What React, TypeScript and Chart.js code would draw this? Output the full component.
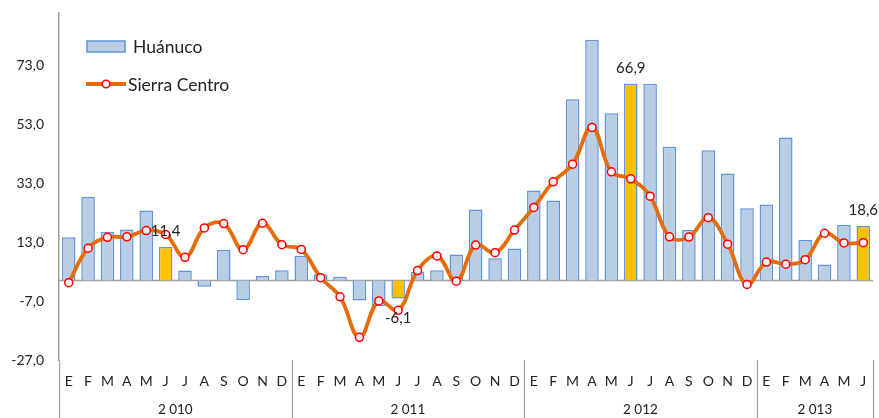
import React, { useEffect, useRef } from 'react';
import { Chart, registerables } from 'chart.js';
Chart.register(...registerables);

const monthLetters = ['E', 'F', 'M', 'A', 'M', 'J', 'J', 'A', 'S', 'O', 'N', 'D'];
const years = ['2 010', '2 011', '2 012', '2 013'];
const monthsPerYear = [12, 12, 12, 6];

const huanuco = [
  14.7, 28.4, 16.6, 17.4, 23.8, 11.4, 3.4, -2.1, 10.4, -6.6, 1.6, 3.5,
  8.4, 2.2, 1.3, -6.8, -8.6, -6.1, 3.0, 3.5, 8.9, 24.2, 7.6, 10.9,
  30.6, 27.2, 61.7, 81.9, 56.9, 66.9, 66.9, 45.5, 17.2, 44.3, 36.4, 24.6,
  25.9, 48.7, 13.8, 5.5, 18.9, 18.6,
];

const sierraCentro = [
  -0.7, 11.0, 14.7, 14.9, 17.0, 15.7, 7.9, 17.9, 19.4, 10.5, 19.5, 12.2,
  10.6, 1.0, -5.5, -19.3, -6.9, -10.1, 3.4, 8.4, -0.2, 12.1, 9.5, 17.2,
  24.9, 33.6, 39.6, 52.1, 37.0, 34.6, 28.7, 14.9, 14.8, 21.4, 12.4, -1.3,
  6.3, 5.6, 7.1, 16.1, 12.8, 12.9,
];

const highlighted = [5, 17, 29, 41];
const yTicks = [-27, -7, 13, 33, 53, 73];
const yMin = -27;
const yMax = 91;

const seriesNames = ['Huánuco', 'Sierra Centro'];

const labels: string[] = [];
monthsPerYear.forEach((n) => {
  for (let i = 0; i < n; i++) labels.push(monthLetters[i]);
});

const FONT = 'Lato, "Noto Sans", sans-serif';
const BAR_FILL = '#B9CDE5';
const BAR_BORDER = '#5F94D9';
const HIGHLIGHT_FILL = '#FFC000';
const LINE_COLOR = '#E46C0A';
const POINT_FILL = '#FFF2F2';
const POINT_BORDER = '#FF0000';
const AXIS_COLOR = '#A0A0A0';
const TEXT_COLOR = '#222222';

const fmt = (v: number) => v.toFixed(1).replace('.', ',');

const overlay = {
  id: 'overlay',
  beforeDatasetsDraw(chart: any) {
    const { ctx, chartArea, scales } = chart;
    const y0 = scales.y.getPixelForValue(0);
    ctx.save();
    ctx.strokeStyle = AXIS_COLOR;
    ctx.lineWidth = 1.5;
    ctx.beginPath();
    ctx.moveTo(chartArea.left, y0);
    ctx.lineTo(chartArea.right, y0);
    ctx.stroke();
    ctx.restore();
  },
  afterDraw(chart: any) {
    const { ctx, chartArea, scales } = chart;
    const xs = scales.x;
    const H = chart.height;
    const step = xs.getPixelForValue(1) - xs.getPixelForValue(0);
    ctx.save();
    // category axis separators
    ctx.strokeStyle = AXIS_COLOR;
    ctx.lineWidth = 1.2;
    let start = 0;
    const bounds: number[] = [chartArea.left];
    monthsPerYear.forEach((n) => {
      const end = start + n - 1;
      bounds.push(xs.getPixelForValue(end) + step / 2);
      start += n;
    });
    bounds.forEach((bx) => {
      ctx.beginPath();
      ctx.moveTo(Math.round(bx) + 0.5, chartArea.bottom);
      ctx.lineTo(Math.round(bx) + 0.5, H);
      ctx.stroke();
    });
    // year labels
    ctx.fillStyle = TEXT_COLOR;
    ctx.font = `13.5px ${FONT}`;
    ctx.textAlign = 'center';
    ctx.textBaseline = 'middle';
    years.forEach((yl, i) => {
      ctx.fillText(yl, (bounds[i] + bounds[i + 1]) / 2, 410);
    });
    // value labels on highlighted bars
    const meta = chart.getDatasetMeta(0);
    ctx.font = `15px ${FONT}`;
    highlighted.forEach((i) => {
      const el = meta.data[i];
      const v = huanuco[i];
      const ty = v >= 0 ? el.y - 16 : el.y + 20;
      ctx.fillText(fmt(v), el.x, ty);
    });
    // legend
    ctx.font = `17.5px ${FONT}`;
    ctx.textAlign = 'left';
    ctx.fillStyle = BAR_FILL;
    ctx.fillRect(87, 41, 38, 11);
    ctx.strokeStyle = BAR_BORDER;
    ctx.lineWidth = 1.5;
    ctx.strokeRect(87, 41, 38, 11);
    ctx.fillStyle = TEXT_COLOR;
    ctx.fillText(seriesNames[0], 133, 47);
    ctx.strokeStyle = LINE_COLOR;
    ctx.lineWidth = 3.8;
    ctx.beginPath();
    ctx.moveTo(86, 84);
    ctx.lineTo(126, 84);
    ctx.stroke();
    ctx.beginPath();
    ctx.arc(106, 84, 3.8, 0, Math.PI * 2);
    ctx.fillStyle = POINT_FILL;
    ctx.fill();
    ctx.strokeStyle = POINT_BORDER;
    ctx.lineWidth = 1.5;
    ctx.stroke();
    ctx.fillStyle = TEXT_COLOR;
    ctx.fillText(seriesNames[1], 128, 85);
    ctx.restore();
  },
};

export default function App() {
  const ref = useRef<HTMLCanvasElement>(null);
  useEffect(() => {
    const chart = new Chart(ref.current as HTMLCanvasElement, {
      type: 'bar',
      data: {
        labels,
        datasets: [
          {
            type: 'bar',
            label: seriesNames[0],
            data: huanuco,
            backgroundColor: huanuco.map((_, i) => (highlighted.includes(i) ? HIGHLIGHT_FILL : BAR_FILL)),
            borderColor: BAR_BORDER,
            borderWidth: 1.5,
            barPercentage: 0.7,
            categoryPercentage: 1,
            order: 2,
          } as any,
          {
            type: 'line',
            label: seriesNames[1],
            data: sierraCentro,
            borderColor: LINE_COLOR,
            borderWidth: 3.8,
            tension: 0.4,
            pointRadius: 4,
            pointBackgroundColor: POINT_FILL,
            pointBorderColor: POINT_BORDER,
            pointBorderWidth: 1.5,
            order: 1,
          } as any,
        ],
      },
      options: {
        responsive: false,
        animation: false,
        layout: { padding: { top: 13, right: 6, left: 0, bottom: 0 } },
        plugins: {
          legend: { display: false },
          tooltip: { enabled: false },
          title: { display: false },
        },
        scales: {
          x: {
            grid: { display: false, drawTicks: false },
            border: { display: false },
            ticks: {
              autoSkip: false,
              maxRotation: 0,
              minRotation: 0,
              padding: 13,
              color: TEXT_COLOR,
              font: { family: FONT, size: 14 },
            },
            afterFit: (s: any) => {
              s.height = 58;
              s.paddingLeft = 0;
              s.paddingRight = 0;
            },
          },
          y: {
            min: yMin,
            max: yMax,
            grid: { display: false, drawTicks: false },
            border: { display: true, color: AXIS_COLOR, width: 1.5 },
            afterBuildTicks: (s: any) => {
              s.ticks = yTicks.map((v) => ({ value: v }));
            },
            ticks: {
              padding: 15,
              color: TEXT_COLOR,
              font: { family: FONT, size: 14 },
              callback: (v: any) => fmt(Number(v)),
            },
            afterFit: (s: any) => {
              s.width = 59;
              s.paddingTop = 0;
              s.paddingBottom = 0;
            },
          },
        },
      },
      plugins: [overlay],
    });
    return () => chart.destroy();
  }, []);
  return (
    <div style={{ position: 'absolute', left: 0, top: 0, width: 879, height: 418, background: '#fff' }}>
      <canvas ref={ref} width={879} height={418} style={{ display: 'block' }} />
    </div>
  );
}
